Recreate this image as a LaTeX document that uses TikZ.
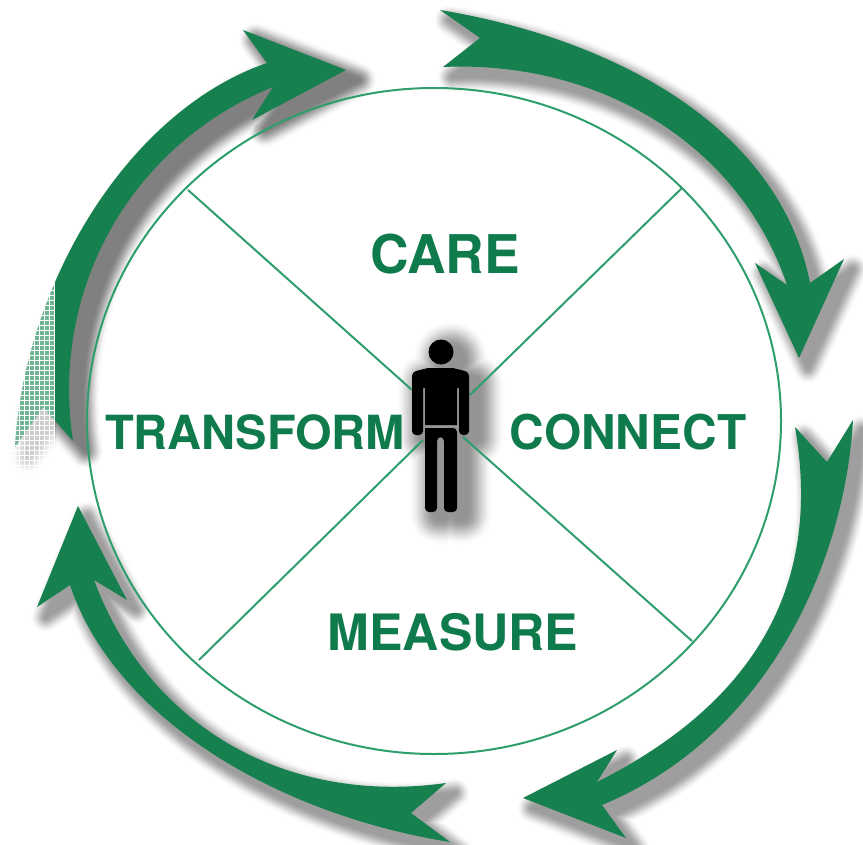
\documentclass[tikz,border=0pt]{standalone}
\usepackage{fontspec}
\setmainfont{TeX Gyre Heros}
\definecolor{arrowgreen}{HTML}{16804F}
\definecolor{textgreen}{HTML}{0F7A4C}
\definecolor{linegreen}{HTML}{2E9E6C}
\definecolor{fadegreen}{HTML}{6FB593}
\tikzset{
  spoke/.style={draw=linegreen,line width=1.5pt},
  word/.style={text=textgreen,font=\bfseries,inner sep=0pt},
}
\def\arrowcare{(440,10) .. controls (620,40) and (780,130) .. (810,283)
  -- (844,259) -- (799,358) -- (755,263) -- (787,285)
  .. controls (740,145) and (600,60) .. (443,67)
  -- (480,38) -- cycle}
\def\arrowconnect{(853,420) .. controls (845,560) and (770,735) .. (602,805)
  -- (626,838) -- (523,798) -- (617,750) -- (597,782)
  .. controls (770,695) and (820,570) .. (795,427)
  -- (827,462) -- cycle}
\def\arrowmeasure{(450,842) .. controls (280,815) and (115,720) .. (70,585)
  -- (37,607) -- (78,506) -- (127,600) -- (94,580)
  .. controls (150,730) and (290,805) .. (446,783)
  -- (411,813) -- cycle}
\def\arrowtransform{(15,447) .. controls (25,280) and (130,110) .. (267,63)
  -- (243,30) -- (346,70) -- (252,120) -- (273,87)
  .. controls (130,145) and (50,290) .. (73,441)
  -- (43,407) -- cycle}
\def\person{(428,368) -- (453,368) [rounded corners=3pt] -- (469,372) -- (469,435) -- (459,435)
  [sharp corners] -- (459,388) -- (457,388) -- (457,425) -- (425,425) -- (425,388) -- (423,388)
  [rounded corners=3pt] -- (423,435) -- (412,435) -- (412,372) [sharp corners] -- cycle
  (425,428) [rounded corners=3pt] -- (457,428) -- (457,512) -- (444,512) -- (444,437) -- (437,437) -- (437,512) -- (425,512) [sharp corners] -- cycle
  (441,352) circle (12.5)}
% widest and palest first, so the layers read as a soft edge
\newcommand{\softshadow}[4]{%
\foreach \w in {1,...,24}{
  \pgfmathsetmacro{\p}{#3*(3*(\w/24)^2-2*(\w/24)^3)}
  \pgfmathsetmacro{\lw}{#4*(24-\w)/24}
  \path[fill=black!\p,draw=black!\p,line width=\lw pt,line join=round,shift={(#2)}] #1;
}}
\begin{document}
\begin{tikzpicture}[x=.75pt,y=-.75pt]
\useasboundingbox (0,0) rectangle (863,845);
\softshadow{\arrowcare}{9,10}{38}{24}
\softshadow{\arrowconnect}{9,10}{38}{24}
\softshadow{\arrowmeasure}{9,10}{38}{24}
\softshadow{\arrowtransform}{13,10}{50}{28}
\softshadow{\person}{10,7}{42}{40}
\coordinate (hub) at (434,421);
\coordinate (nw) at (188,190);
\coordinate (ne) at (682,188);
\coordinate (sw) at (199,660);
\coordinate (se) at (692,641);
\coordinate (hubnw) at (412,390);
\coordinate (hubne) at (470,395);
\coordinate (hubsw) at (423,440);
\coordinate (hubse) at (463,437);
\draw[spoke] (hub) ellipse (347 and 333);
\draw[spoke] (nw) -- (hubnw);
\draw[spoke] (ne) -- (hubne);
\draw[spoke] (sw) -- (hubsw);
\draw[spoke] (se) -- (hubse);
\fill[arrowgreen] \arrowcare;
\fill[arrowgreen] \arrowconnect;
\fill[arrowgreen] \arrowmeasure;
\fill[arrowgreen] \arrowtransform;
% faded left end
\begin{scope}
\clip (0,270) rectangle (55,480);
\fill[white,opacity=.6] (0,270) rectangle (55,480);
\begin{scope}
\clip \arrowtransform;
\fill[fadegreen] (0,270) rectangle (55,480);
\end{scope}
\foreach \x in {4,9,...,54}
  \draw[white,line width=.4pt] (\x,270) -- (\x,480);
\foreach \y in {275,280,...,480}
  \draw[white,line width=.4pt] (0,\y) -- (55,\y);
\end{scope}
\fill[black,even odd rule] \person;
\node[word,font=\fontsize{40}{40}\bfseries] (care) at (445,254) {CARE};
\node[word,font=\fontsize{35.3}{40}\bfseries] (transform) at (255,432) {TRANSFORM};
\node[word,font=\fontsize{35.9}{40}\bfseries] (connect) at (628,432) {CONNECT};
\node[word,font=\fontsize{37.6}{40}\bfseries] (measure) at (453,632) {MEASURE};
\end{tikzpicture}
\end{document}
